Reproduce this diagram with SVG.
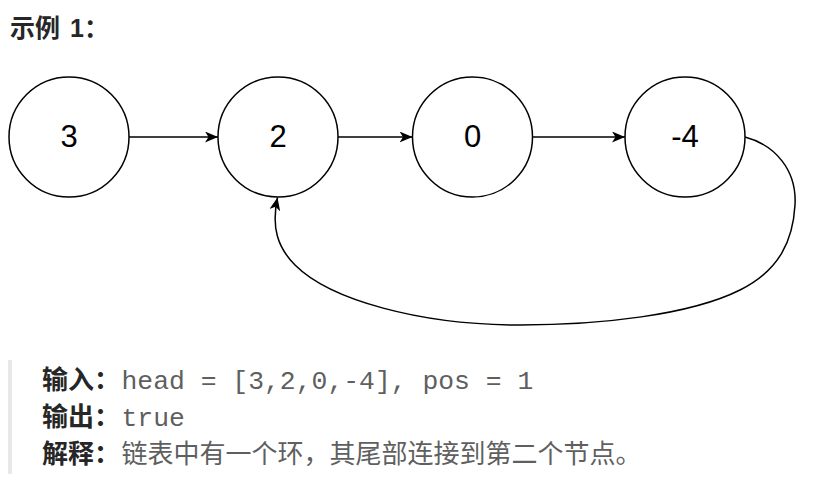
<svg xmlns="http://www.w3.org/2000/svg" width="816" height="503" viewBox="0 0 816 503">
<style>
.node{fill:#fff;stroke:#000;stroke-width:1.5}
.num{font-family:"Liberation Sans",Arial,sans-serif;font-size:31px;fill:#000;text-anchor:middle}
.edge{fill:none;stroke:#000;stroke-width:1.5}
.title{font-family:"Liberation Sans","Noto Sans CJK SC",sans-serif;font-size:25px;font-weight:bold;fill:#262626}
.lbl{font-family:"Noto Sans CJK SC",sans-serif;font-size:26px;font-weight:bold;fill:#262626}
.code{font-family:"Liberation Mono","DejaVu Sans Mono",monospace;font-size:26.4px;fill:#5f5f5f}
.txt{font-family:"Noto Sans CJK SC",sans-serif;font-size:26px;fill:#5f5f5f}
</style>
<defs>
<marker id="arr" markerUnits="userSpaceOnUse" markerWidth="14" markerHeight="11" refX="13" refY="5.5" orient="auto" viewBox="0 0 14 11">
<path d="M0,0 L13,5.5 L0,11 L3.5,5.5 Z" fill="#000"/>
</marker>
</defs>
<text class="title" x="10" y="37">示例<tspan x="70">1：</tspan></text>
<g id="connectors">
<line class="edge" x1="129" y1="137" x2="218" y2="137" marker-end="url(#arr)"/>
<line class="edge" x1="338" y1="137" x2="412.5" y2="137" marker-end="url(#arr)"/>
<line class="edge" x1="532.5" y1="137" x2="625" y2="137" marker-end="url(#arr)"/>
<path class="edge" d="M745,137 C775,145 797,170 795,205 C793,240 780,270 740,290 C690,315 600,325 520,325 C420,325 330,300 295,265 C278,248 271,228 277.5,197.5" marker-end="url(#arr)"/>
</g>
<g id="node3"><circle class="node" cx="69" cy="137" r="60"/><text class="num" x="69" y="147">3</text></g>
<g id="node2"><circle class="node" cx="278" cy="137" r="60"/><text class="num" x="278" y="147">2</text></g>
<g id="node0"><circle class="node" cx="472.5" cy="137" r="60"/><text class="num" x="472.5" y="147">0</text></g>
<g id="nodem4"><circle class="node" cx="685" cy="137" r="60"/><text class="num" x="685" y="147">-4</text></g>
<rect x="8" y="360" width="4" height="114" fill="#e8e8e8"/>
<text class="lbl" x="42" y="389">输入：</text>
<text class="code" x="121.5" y="389">head = [3,2,0,-4], pos = 1</text>
<text class="lbl" x="42" y="426">输出：</text>
<text class="code" x="121.5" y="426">true</text>
<text class="lbl" x="42" y="463">解释：</text>
<text class="txt" x="121.5" y="463">链表中有一个环，其尾部连接到第二个节点。</text>
</svg>
